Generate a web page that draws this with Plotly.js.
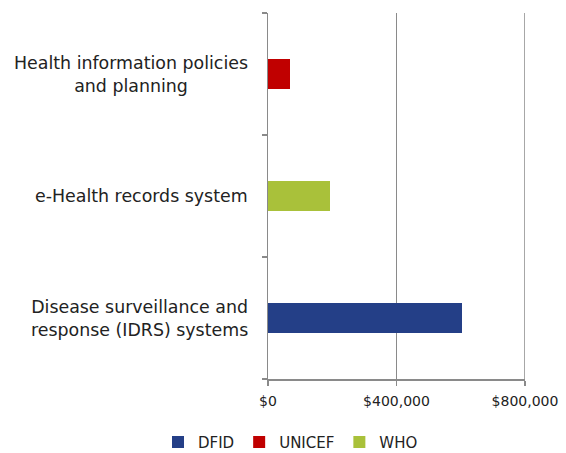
<!DOCTYPE html>
<html>
<head>
<meta charset="utf-8">
<script src="https://cdn.plot.ly/plotly-3.0.1.min.js"></script>
<style>html,body{margin:0;padding:0;background:#fff;}#chart{width:566px;height:453px;}</style>
</head>
<body>
<div id="chart"></div>
<script>
// Categories, bottom to top
const categories = ["Disease surveillance and response (IDRS) systems", "e-Health records system", "Health information policies and planning"];
const categoryLabels = ["Disease surveillance and<br>response (IDRS) systems", "e-Health records system", "Health information policies<br>and planning"];
const seriesNames = ["DFID", "UNICEF", "WHO"];
const dfid = [605000, null, null];
const unicef = [null, null, 70000];
const who = [null, 192000, null];
const xTickVals = [0, 400000, 800000];
const xTickText = ["$0", "$400,000", "$800,000"];
const xMax = 800000;

const colors = ["#243f87", "#c00000", "#a9c13a"];
const seriesValues = [dfid, unicef, who];
const gridColor = "#8a8a8a";
const textColor = "#222";
const font = "DejaVu Sans, sans-serif";

const traces = seriesNames.map((name, i) => ({
  type: "bar",
  orientation: "h",
  name: name,
  y: categories,
  x: seriesValues[i],
  marker: {color: colors[i]},
  hoverinfo: "x+name"
}));

const annotations = categories.map((c, i) => ({
  xref: "paper", x: 0, xshift: -18, xanchor: "right",
  yref: "y", y: c, yanchor: "middle",
  text: categoryLabels[i], align: "center", showarrow: false,
  font: {family: font, size: 17.4, color: textColor}
}));

const layout = {
  width: 566, height: 453,
  margin: {l: 268, r: 41, t: 13, b: 74, pad: 0, autoexpand: false},
  paper_bgcolor: "#fff", plot_bgcolor: "#fff",
  barmode: "stack",
  bargap: 0.762,
  font: {family: font, color: textColor},
  xaxis: {
    range: [0, xMax],
    tickvals: xTickVals, ticktext: xTickText,
    showgrid: true, gridcolor: gridColor, gridwidth: 1.5,
    zeroline: false,
    showline: true, linecolor: gridColor, linewidth: 1.5,
    ticks: "outside", ticklen: 5, tickcolor: gridColor, tickwidth: 1.5,
    tickfont: {family: font, size: 14, color: textColor},
    ticklabelstandoff: 4,
    fixedrange: true
  },
  yaxis: {
    type: "category",
    categoryorder: "array", categoryarray: categories,
    showgrid: false, zeroline: false,
    showline: true, linecolor: gridColor, linewidth: 1.5,
    ticks: "outside", ticklen: 5, tickcolor: gridColor, tickwidth: 1.5,
    tickson: "boundaries",
    showticklabels: false,
    fixedrange: true
  },
  shapes: [{
    type: "line", xref: "x", yref: "paper",
    x0: xMax, x1: xMax, y0: 0, y1: 1,
    line: {color: gridColor, width: 1.5}, layer: "below"
  }],
  annotations: annotations,
  showlegend: true,
  legend: {
    orientation: "h",
    xref: "paper", x: -0.428, xanchor: "left",
    yref: "paper", y: -0.128, yanchor: "top",
    font: {family: font, size: 15, color: textColor},
    itemwidth: 30,
    traceorder: "normal"
  }
};

Plotly.newPlot("chart", traces, layout, {displayModeBar: false, staticPlot: true});
</script>
</body>
</html>
